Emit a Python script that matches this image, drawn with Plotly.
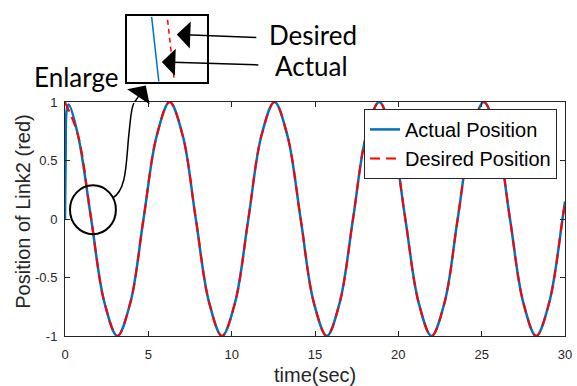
import plotly.graph_objects as go

# ---------------- data ----------------
t_desired = [0.00, 0.79, 1.57, 2.36, 3.14, 3.93, 4.71, 5.50, 6.28, 7.07,
             7.85, 8.64, 9.42, 10.21, 11.00, 11.78, 12.57, 13.35, 14.14, 14.92,
             15.71, 16.49, 17.28, 18.06, 18.85, 19.63, 20.42, 21.21, 21.99, 22.78,
             23.56, 24.35, 25.13, 25.92, 26.70, 27.49, 28.27, 29.06, 29.85, 30.00]
y_desired = [1.00, 0.71, 0.00, -0.71, -1.00, -0.71, 0.00, 0.71, 1.00, 0.71,
             0.00, -0.71, -1.00, -0.71, 0.00, 0.71, 1.00, 0.71, 0.00, -0.71,
             -1.00, -0.71, 0.00, 0.71, 1.00, 0.71, 0.00, -0.71, -1.00, -0.71,
             0.00, 0.71, 1.00, 0.71, 0.00, -0.71, -1.00, -0.71, 0.00, 0.15]

t_actual = [0.00, 0.04, 0.10, 0.22, 0.79, 1.57, 2.36, 3.14, 3.93, 4.71, 5.50, 6.28, 7.07,
            7.85, 8.64, 9.42, 10.21, 11.00, 11.78, 12.57, 13.35, 14.14, 14.92,
            15.71, 16.49, 17.28, 18.06, 18.85, 19.63, 20.42, 21.21, 21.99, 22.78,
            23.56, 24.35, 25.13, 25.92, 26.70, 27.49, 28.27, 29.06, 29.85, 30.00]
y_actual = [0.00, 0.55, 0.93, 0.98, 0.71, 0.00, -0.71, -1.00, -0.71, 0.00, 0.71, 1.00, 0.71,
            0.00, -0.71, -1.00, -0.71, 0.00, 0.71, 1.00, 0.71, 0.00, -0.71,
            -1.00, -0.71, 0.00, 0.71, 1.00, 0.71, 0.00, -0.71, -1.00, -0.71,
            0.00, 0.71, 1.00, 0.71, 0.00, -0.71, -1.00, -0.71, 0.00, 0.15]

# enlarged view near the first zero crossing
inset_t_actual = [1.562, 1.580]
inset_y_actual = [0.0388, -0.0388]
inset_t_desired = [1.602, 1.618]
inset_y_desired = [0.0353, -0.0341]

x_ticks = [0, 5, 10, 15, 20, 25, 30]
y_ticks = [-1, -0.5, 0, 0.5, 1]
y_tick_text = ["-1", "-0.5", "0", "0.5", "1"]

BLUE = "#0072BD"
RED = "#FF0000"
TXT = "#262626"
FONT = "Liberation Sans"
CALLOUT_FONT = "Lato"

fig = go.Figure()
fig.add_trace(go.Scatter(x=t_actual, y=y_actual, mode="lines", name="Actual Position",
                         line=dict(color=BLUE, width=2.5, shape="spline"),
                         xaxis="x", yaxis="y"))
fig.add_trace(go.Scatter(x=t_desired, y=y_desired, mode="lines", name="Desired Position",
                         line=dict(color=RED, width=2, dash="10px,6px", shape="spline"),
                         xaxis="x", yaxis="y"))
fig.add_trace(go.Scatter(x=inset_t_actual, y=inset_y_actual, mode="lines", showlegend=False,
                         line=dict(color=BLUE, width=1.5), xaxis="x2", yaxis="y2"))
fig.add_trace(go.Scatter(x=inset_t_desired, y=inset_y_desired, mode="lines", showlegend=False,
                         line=dict(color=RED, width=1.5, dash="5px,4px"), xaxis="x2", yaxis="y2"))

L, R, T, B = 65, 11, 5, 50
W, H = 577, 386
PW, PH = W - L - R, H - T - B


def px(x):
    return (x - L) / PW


def py(y):
    return (H - B - y) / PH


axis_common = dict(showgrid=False, zeroline=False, showline=True, linecolor=TXT, linewidth=1,
                   mirror="ticks", ticks="inside", ticklen=5, tickcolor=TXT,
                   tickfont=dict(family=FONT, size=13, color=TXT))

fig.update_layout(
    width=W, height=H,
    margin=dict(l=L, r=R, t=T, b=B),
    paper_bgcolor="white", plot_bgcolor="white",
    xaxis=dict(domain=[0, 1], range=[0, 30], tickvals=x_ticks, ticklabelstandoff=6, **axis_common),
    yaxis=dict(domain=[0, py(97)], range=[-1, 1], tickvals=y_ticks, ticktext=y_tick_text,
               ticklabelstandoff=4, **axis_common),
    xaxis2=dict(domain=[px(127), px(207)], range=[1.50, 1.70], anchor="y2", showgrid=False,
                zeroline=False, showticklabels=False, ticks="", showline=True, mirror=True,
                linecolor="black", linewidth=2),
    yaxis2=dict(domain=[py(77), py(9)], range=[-0.04, 0.04], anchor="x2", showgrid=False,
                zeroline=False, showticklabels=False, ticks="", showline=True, mirror=True,
                linecolor="black", linewidth=2),
    legend=dict(x=px(558), y=py(104), xanchor="right", yanchor="top", bgcolor="white",
                bordercolor=TXT, borderwidth=1, font=dict(family=FONT, size=20, color="black"),
                tracegroupgap=0),
    showlegend=True,
)

ann = []
ann.append(dict(text="time(sec)", x=px(316), y=py(376), xref="paper", yref="paper",
                xanchor="center", yanchor="middle",
                showarrow=False, font=dict(family=FONT, size=20, color=TXT)))
ann.append(dict(text="Position of Link2 (red)", x=px(23), y=py(209), xref="paper", yref="paper",
                xanchor="center", yanchor="middle",
                showarrow=False, textangle=-90, font=dict(family=FONT, size=20, color=TXT)))
for txt, cx, cy in [("Desired", 313, 29), ("Actual", 312, 60), ("Enlarge", 76, 71)]:
    ann.append(dict(text=txt, x=px(cx), y=py(cy), xref="paper", yref="paper", showarrow=False,
                    xanchor="center", yanchor="middle",
                    font=dict(family=CALLOUT_FONT, size=26, color="black")))
for hx, hy, ax, ay in [(177, 28, 81, 3), (162, 56, 98, 3), (146, 80, -12, 18)]:
    ann.append(dict(text="", x=px(hx), y=py(hy), xref="paper", yref="paper", showarrow=True,
                    ax=ax, ay=ay, arrowhead=1, arrowsize=3, arrowwidth=1.5, arrowcolor="black"))
fig.update_layout(annotations=ann)

path = (f"M{px(113)},{py(195)} C{px(127)},{py(186)} {px(126)},{py(160)} {px(129)},{py(130)} "
        f"C{px(131)},{py(112)} {px(131)},{py(104)} {px(134)},{py(98)}")
fig.update_layout(shapes=[
    dict(type="circle", xref="paper", yref="paper", x0=px(70), x1=px(116), y0=py(232), y1=py(182),
         line=dict(color="black", width=2)),
    dict(type="path", xref="paper", yref="paper", path=path, line=dict(color="black", width=1.5)),
])

fig.write_html("out.html", config={"displayModeBar": False},
               post_script="document.body.style.margin='0px';")
